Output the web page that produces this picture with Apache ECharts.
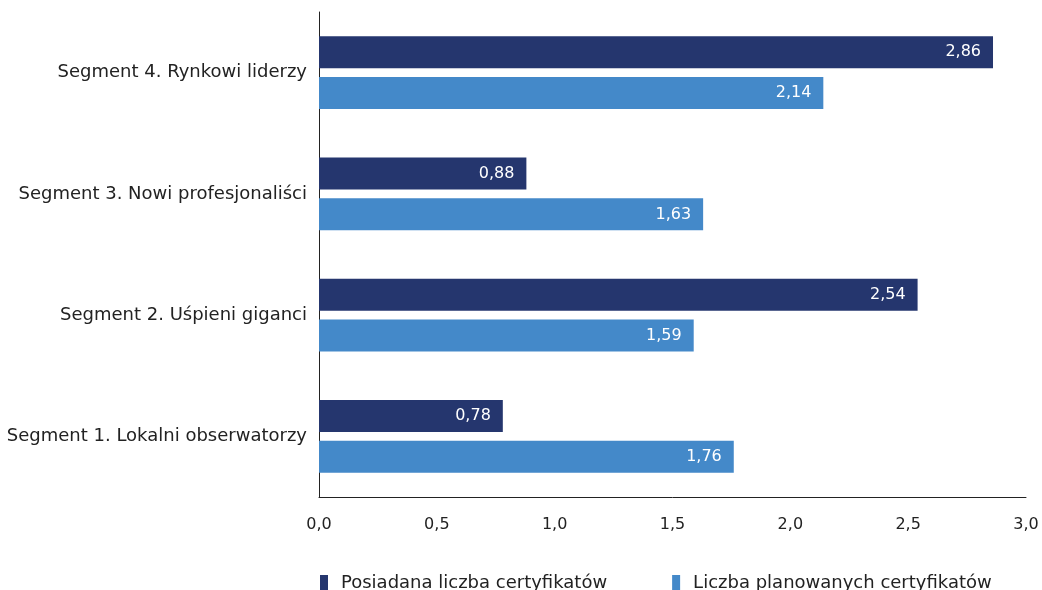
<!DOCTYPE html>
<html>
<head>
<meta charset="utf-8">
<script src="https://cdn.jsdelivr.net/npm/echarts@6/dist/echarts.min.js"></script>
<style>
  html, body { margin: 0; padding: 0; background: #ffffff; }
  #chart { width: 1042px; height: 590px; }
</style>
</head>
<body>
<div id="chart"></div>
<script>
// Segments listed from top to bottom
const categories = [
  'Segment 4. Rynkowi liderzy',
  'Segment 3. Nowi profesjonaliści',
  'Segment 2. Uśpieni giganci',
  'Segment 1. Lokalni obserwatorzy'
];
const seriesNames = ['Posiadana liczba certyfikatów', 'Liczba planowanych certyfikatów'];
const posiadane = [2.86, 0.88, 2.54, 0.78];
const planowane = [2.14, 1.63, 1.59, 1.76];

const FONT = '"DejaVu Sans", "Noto Sans", sans-serif';
const fmt = v => v.toFixed(2).replace('.', ',');

const chart = echarts.init(document.getElementById('chart'), null, { renderer: 'canvas' });

const labelCfg = {
  show: true,
  position: 'insideRight',
  distance: 12,
  color: '#ffffff',
  fontFamily: FONT,
  fontSize: 16,
  formatter: p => fmt(p.value)
};

chart.setOption({
  animation: false,
  textStyle: { fontFamily: FONT },
  grid: { left: 319, right: 16, top: 12, bottom: 93, containLabel: false },
  legend: {
    data: seriesNames,
    left: 320,
    bottom: -2,
    padding: 0,
    itemWidth: 8,
    itemHeight: 16,
    itemGap: 65,
    icon: 'rect',
    textStyle: { fontFamily: FONT, fontSize: 18, color: '#222', padding: [0, 0, 0, 8] }
  },
  xAxis: {
    type: 'value',
    min: 0,
    max: 3,
    interval: 0.5,
    axisLine: { show: true, lineStyle: { color: '#222', width: 1 } },
    axisTick: { show: false },
    splitLine: { show: false },
    axisLabel: {
      margin: 20,
      color: '#222',
      fontFamily: FONT,
      fontSize: 16,
      formatter: v => v.toFixed(1).replace('.', ',')
    }
  },
  yAxis: {
    type: 'category',
    data: categories,
    inverse: true,
    axisLine: { show: true, lineStyle: { color: '#222', width: 1 } },
    axisTick: { show: false },
    axisLabel: { margin: 12, color: '#222', fontFamily: FONT, fontSize: 18 }
  },
  series: [
    {
      name: seriesNames[0],
      type: 'bar',
      data: posiadane,
      barWidth: 32,
      barGap: '28%',
      itemStyle: { color: '#25366e' },
      label: labelCfg
    },
    {
      name: seriesNames[1],
      type: 'bar',
      data: planowane,
      barWidth: 32,
      itemStyle: { color: '#4489c9' },
      label: labelCfg
    }
  ]
});
</script>
</body>
</html>
